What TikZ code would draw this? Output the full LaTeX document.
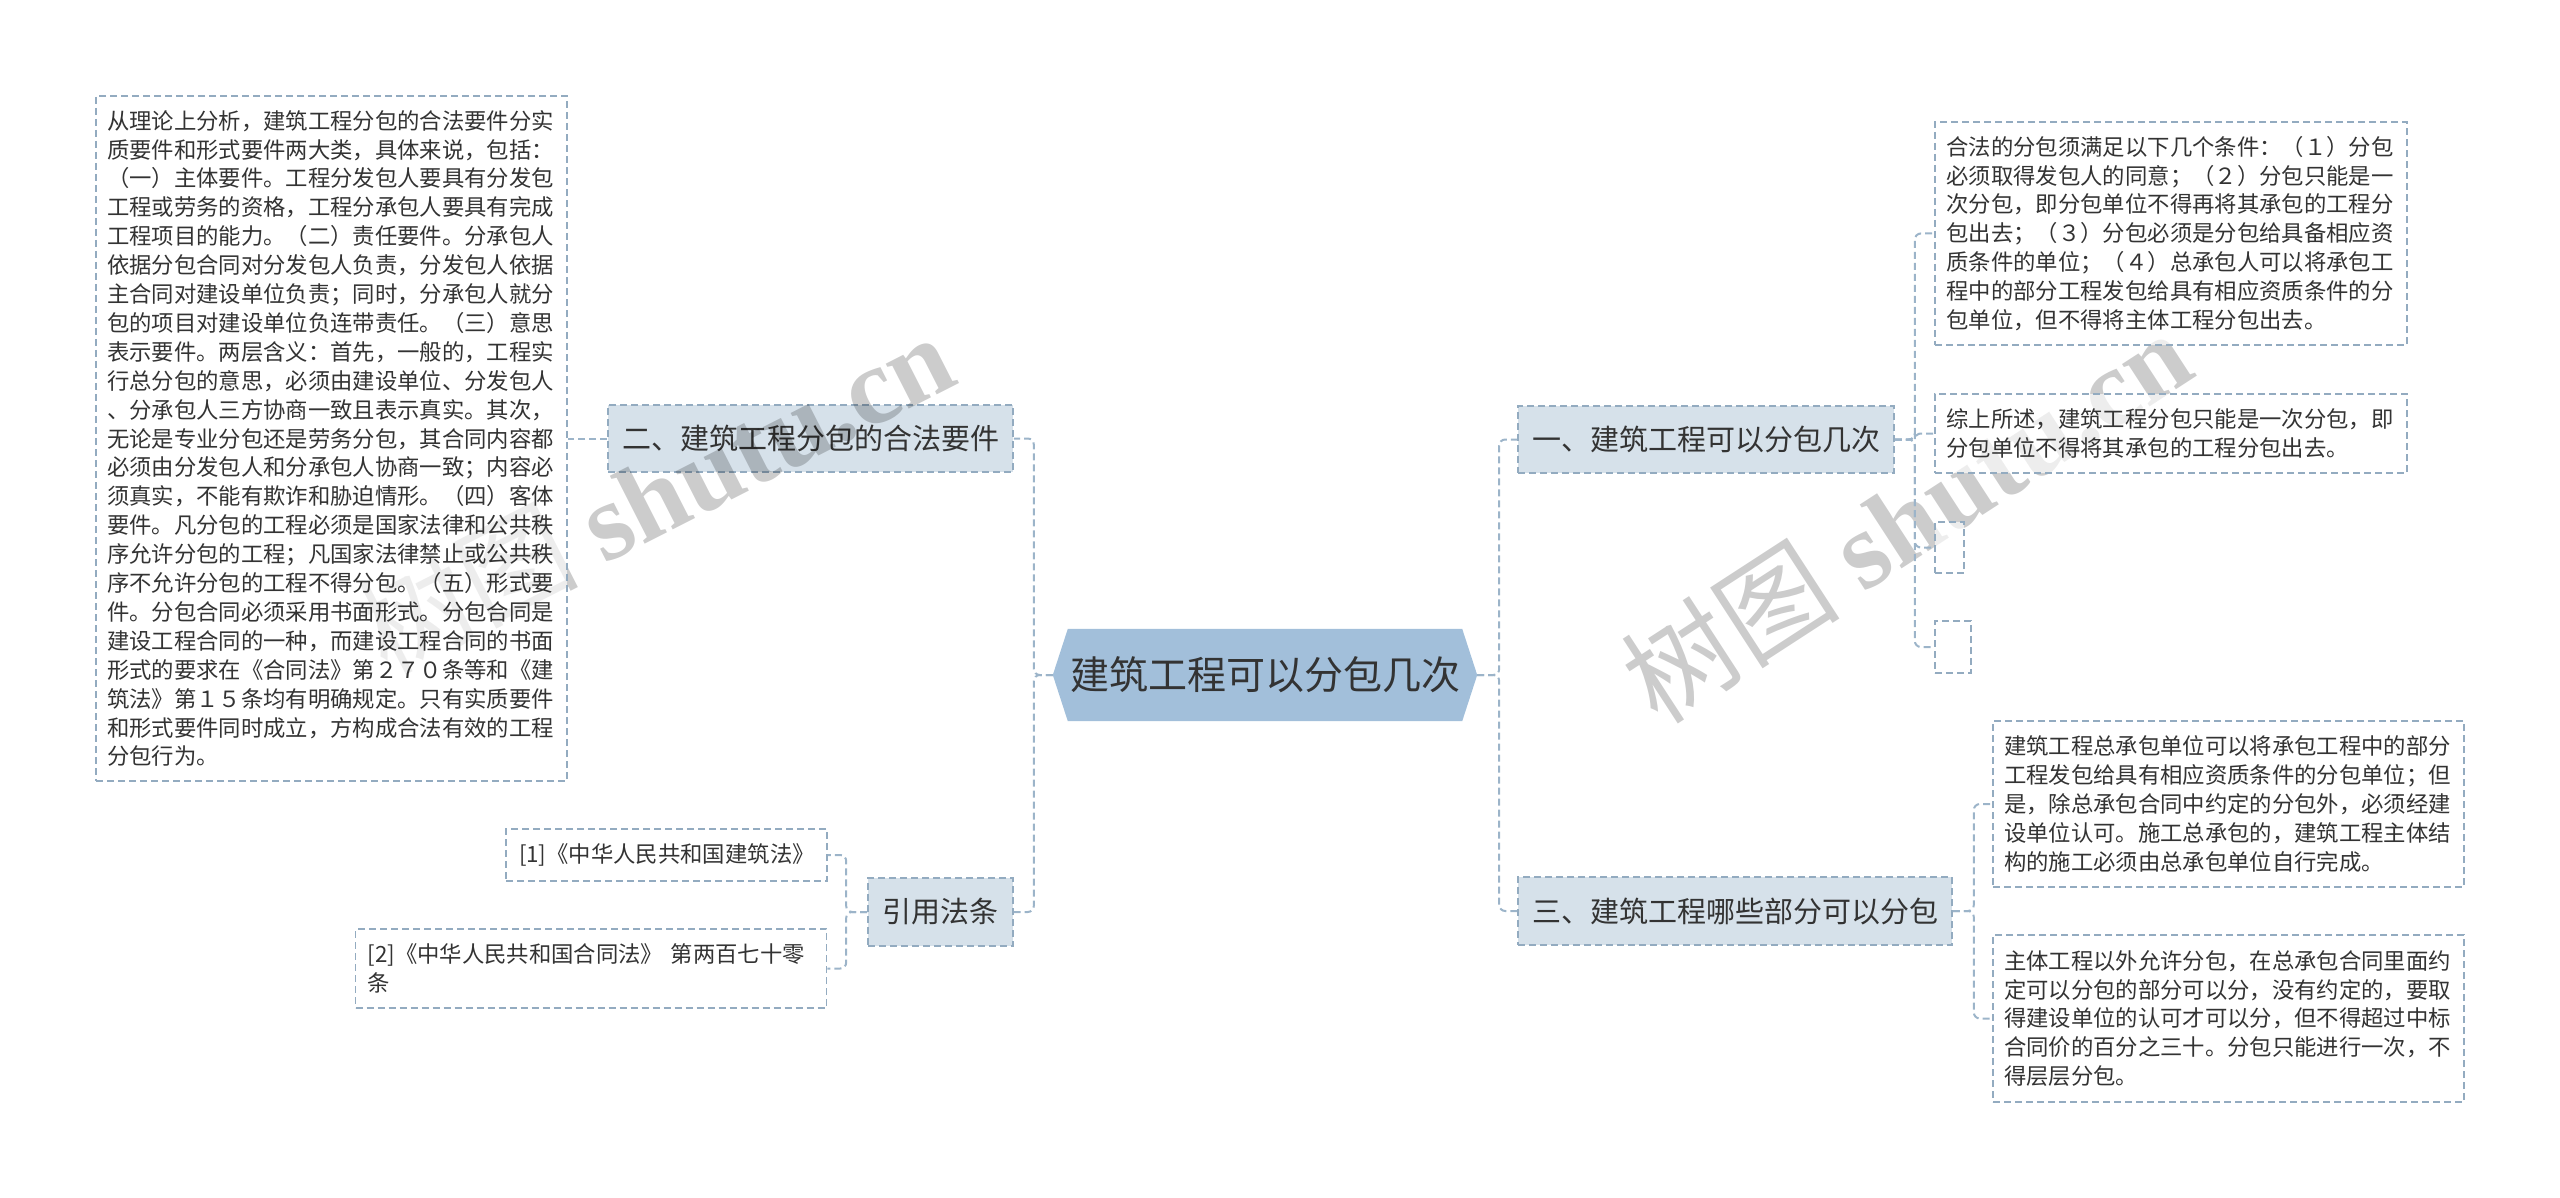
\documentclass[tikz,border=0pt]{standalone}
\usepackage{fontspec}
\setmainfont{Noto Sans CJK SC}
\newfontfamily\wmlatin{Liberation Serif}
\usetikzlibrary{calc,backgrounds}
\definecolor{linec}{HTML}{9CB4C9}
\definecolor{borderc}{HTML}{93ABC0}
\definecolor{branchfill}{HTML}{D6E1EA}
\definecolor{centerfill}{HTML}{A2BFDA}
\definecolor{txt}{HTML}{333333}
\tikzset{
  conn/.style={draw=linec, line width=2pt, dash pattern=on 7pt off 4pt, rounded corners=6pt},
  leafbox/.style={draw=borderc, fill=white, fill opacity=0.65, text opacity=1, line width=1.6pt,
    dash pattern=on 7pt off 4pt, inner sep=0pt,
    text=txt, align=left, font=\fontsize{22.35pt}{28.9pt}\selectfont},
  branchbox/.style={draw=borderc, fill=branchfill, line width=1.6pt, dash pattern=on 7pt off 4pt,
    inner sep=0pt, text=txt, font=\fontsize{29pt}{35pt}\selectfont},
  centerbox/.style={inner sep=0pt, text=txt, font=\fontsize{39pt}{47pt}\selectfont},
  wmark/.style={text=black, opacity=0.2, inner sep=0pt}
}
\begin{document}
\begin{tikzpicture}[x=1pt,y=-1pt]
\useasboundingbox (0,0) rectangle (2560,1198);
% center
\node[centerbox, minimum width=424pt, minimum height=92pt] (c) at (1265,675) {建筑工程可以分包几次};
\begin{scope}[on background layer]
\fill[centerfill] (c.west) -- ($(c.north west)+(15,0)$) -- ($(c.north east)+(-15,0)$) -- (c.east)
  -- ($(c.south east)+(-15,0)$) -- ($(c.south west)+(15,0)$) -- cycle;
\end{scope}
% branches
\node[branchbox, minimum width=405pt, minimum height=67pt] (b2) at (810.5,438.5) {二、建筑工程分包的合法要件};
\node[branchbox, minimum width=376pt, minimum height=67pt] (b1) at (1706,439.5) {一、建筑工程可以分包几次};
\node[branchbox, minimum width=434pt, minimum height=68pt] (b3) at (1735,911) {三、建筑工程哪些部分可以分包};
\node[branchbox, minimum width=145pt, minimum height=68pt] (b4) at (940.5,912) {引用法条};
% watermarks (under the white leaf boxes, over the rest)
\node[wmark, rotate=27] (w1) at (655,492) {\fontsize{110pt}{120pt}\selectfont 树图 {\wmlatin\bfseries shutu.cn}};
\node[wmark, rotate=33] (w2) at (1906,516) {\fontsize{110pt}{120pt}\selectfont 树图 {\wmlatin\bfseries shutu.cn}};
% leaves
\node[leafbox, minimum width=471pt, minimum height=685pt, text width=449pt] (L) at (331.5,438.5) {%
从理论上分析，建筑工程分包的合法要件分实\\
质要件和形式要件两大类，具体来说，包括：\\
（一）主体要件。工程分发包人要具有分发包\\
工程或劳务的资格，工程分承包人要具有完成\\
工程项目的能力。（二）责任要件。分承包人\\
依据分包合同对分发包人负责，分发包人依据\\
主合同对建设单位负责；同时，分承包人就分\\
包的项目对建设单位负连带责任。（三）意思\\
表示要件。两层含义：首先，一般的，工程实\\
行总分包的意思，必须由建设单位、分发包人\\
、分承包人三方协商一致且表示真实。其次，\\
无论是专业分包还是劳务分包，其合同内容都\\
必须由分发包人和分承包人协商一致；内容必\\
须真实，不能有欺诈和胁迫情形。（四）客体\\
要件。凡分包的工程必须是国家法律和公共秩\\
序允许分包的工程；凡国家法律禁止或公共秩\\
序不允许分包的工程不得分包。（五）形式要\\
件。分包合同必须采用书面形式。分包合同是\\
建设工程合同的一种，而建设工程合同的书面\\
形式的要求在《合同法》第２７０条等和《建\\
筑法》第１５条均有明确规定。只有实质要件\\
和形式要件同时成立，方构成合法有效的工程\\
分包行为。};
\node[leafbox, minimum width=472pt, minimum height=223pt, text width=449pt] (r1) at (2171,233.5) {%
合法的分包须满足以下几个条件：（１）分包\\
必须取得发包人的同意；（２）分包只能是一\\
次分包，即分包单位不得再将其承包的工程分\\
包出去；（３）分包必须是分包给具备相应资\\
质条件的单位；（４）总承包人可以将承包工\\
程中的部分工程发包给具有相应资质条件的分\\
包单位，但不得将主体工程分包出去。};
\node[leafbox, minimum width=472pt, minimum height=79pt, text width=449pt] (r2) at (2171,433.5) {%
综上所述，建筑工程分包只能是一次分包，即\\
分包单位不得将其承包的工程分包出去。};
\node[leafbox, minimum width=29pt, minimum height=51pt] (ra) at (1949.5,547.5) {};
\node[leafbox, minimum width=36pt, minimum height=52pt] (rb) at (1953,647) {};
\node[leafbox, minimum width=471pt, minimum height=166pt, text width=449pt] (r3) at (2228.5,804) {%
建筑工程总承包单位可以将承包工程中的部分\\
工程发包给具有相应资质条件的分包单位；但\\
是，除总承包合同中约定的分包外，必须经建\\
设单位认可。施工总承包的，建筑工程主体结\\
构的施工必须由总承包单位自行完成。};
\node[leafbox, minimum width=471pt, minimum height=167pt, text width=449pt] (r4) at (2228.5,1018.5) {%
主体工程以外允许分包，在总承包合同里面约\\
定可以分包的部分可以分，没有约定的，要取\\
得建设单位的认可才可以分，但不得超过中标\\
合同价的百分之三十。分包只能进行一次，不\\
得层层分包。};
\node[leafbox, minimum width=321pt, minimum height=52pt, text width=295pt] (c1) at (666.5,855) {[1]《中华人民共和国建筑法》};
\node[leafbox, minimum width=471pt, minimum height=79pt, text width=447pt] (c2) at (591,968.5) {%
[2]《中华人民共和国合同法》 第两百七十零\\
条};
% connectors
\draw[conn] (c.west) -- ++(-19,0) |- (b2.east);
\draw[conn] (c.west) -- ++(-19,0) |- (b4.east);
\draw[conn] (c.east) -- ++(22,0) |- (b1.west);
\draw[conn] (c.east) -- ++(22,0) |- (b3.west);
\draw[conn] (b2.west) -- (L.east);
\draw[conn] (b1.east) -- ++(20,0) |- (r1.west);
\draw[conn] (b1.east) -- ++(20,0) |- (r2.west);
\draw[conn] (b1.east) -- ++(20,0) |- (ra.west);
\draw[conn] (b1.east) -- ++(20,0) |- (rb.west);
\draw[conn] (b3.east) -- ++(21,0) |- (r3.west);
\draw[conn] (b3.east) -- ++(21,0) |- (r4.west);
\draw[conn] (b4.west) -- ++(-21,0) |- (c1.east);
\draw[conn] (b4.west) -- ++(-21,0) |- (c2.east);
\end{tikzpicture}
\end{document}
